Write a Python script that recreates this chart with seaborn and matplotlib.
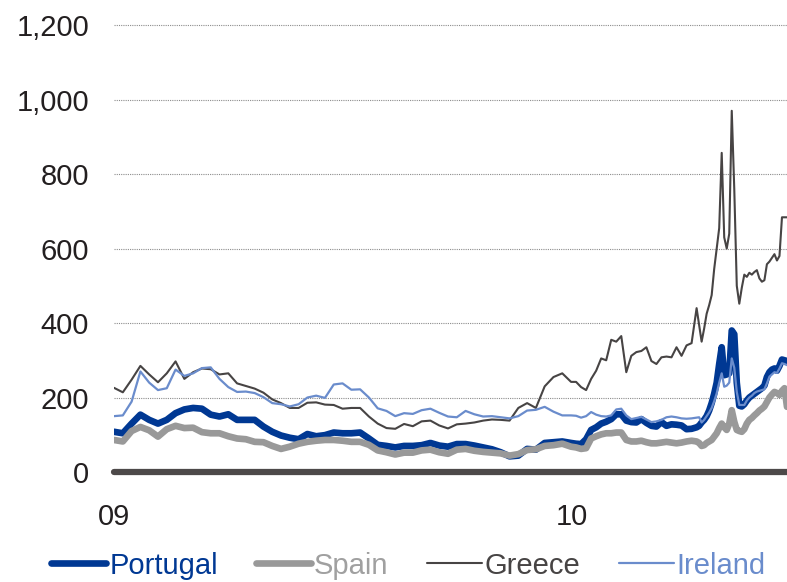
import pandas as pd
import matplotlib
matplotlib.use("Agg")
import matplotlib.pyplot as plt
import seaborn as sns

# 日期网格: 2009 每周, 2010 年初每4天, 峰值区间每2天
dates = list(pd.date_range("2009-01-01", periods=53, freq="7D")) \
    + list(pd.date_range("2010-01-04", periods=25, freq="4D")) \
    + list(pd.date_range("2010-04-12", periods=36, freq="2D"))

portugal = [108, 104, 130, 154, 140, 130, 140, 158, 168, 172,
            170, 154, 149, 155, 140, 140, 140, 122, 108, 98,
            92, 88, 102, 96, 99, 106, 104, 104, 106, 90,
            73, 70, 66, 70, 70, 72, 78, 71, 68, 75,
            75, 71, 66, 61, 53, 42, 44, 62, 60, 78,
            80, 82, 78,
            76, 75, 88, 113, 120, 130, 135, 142, 155, 155,
            138, 134, 133, 142, 132, 124, 122, 134, 124, 128,
            127, 125, 115, 116, 120,
            124, 133, 140, 150, 165, 185, 210, 240, 290, 335,
            260, 262, 265, 380, 370, 240, 178, 176, 182, 192,
            200, 205, 210, 215, 220, 225, 232, 255, 268, 275,
            278, 272, 285, 302, 300, 298]

spain = [86, 82, 110, 121, 112, 95, 115, 124, 118, 119,
         107, 104, 104, 96, 90, 88, 81, 80, 70, 62,
         68, 76, 81, 84, 86, 86, 84, 81, 81, 73,
         58, 53, 47, 52, 52, 58, 60, 53, 49, 60,
         62, 57, 54, 52, 50, 44, 48, 59, 61, 70,
         72, 76, 68,
         66, 62, 64, 90, 96, 101, 104, 104, 106, 106,
         86, 82, 82, 84, 80, 77, 77, 79, 81, 79,
         77, 79, 82, 84, 82,
         78, 70, 72, 78, 82, 86, 95, 104, 118, 130,
         120, 113, 130, 166, 135, 113, 110, 108, 115, 130,
         140, 145, 152, 158, 165, 170, 176, 188, 200, 208,
         215, 212, 207, 218, 225, 175]

greece = [226, 214, 248, 285, 262, 241, 265, 297, 250, 268,
          278, 276, 262, 265, 238, 231, 224, 213, 195, 185,
          172, 172, 186, 187, 181, 180, 170, 172, 172, 149,
          130, 118, 116, 129, 123, 136, 138, 125, 117, 128,
          130, 133, 138, 141, 140, 138, 172, 185, 172, 230,
          255, 265, 242,
          242, 228, 220, 250, 272, 305, 300, 355, 350, 365,
          268, 312, 322, 325, 335, 298, 290, 308, 310, 308,
          335, 312, 340, 346, 440,
          395, 350, 385, 425, 448, 475, 545, 600, 655, 857,
          630, 600, 640, 970, 760, 500, 452, 495, 530, 524,
          535, 530, 537, 542, 520, 511, 515, 558, 565, 575,
          585, 568, 580, 684, 684, 684]

ireland = [150, 152, 189, 270, 240, 220, 225, 275, 258, 265,
           279, 281, 250, 228, 215, 216, 212, 201, 185, 182,
           176, 182, 200, 205, 199, 235, 238, 221, 222, 200,
           171, 164, 150, 158, 156, 166, 170, 159, 149, 147,
           164, 155, 149, 150, 147, 144, 150, 165, 167, 175,
           162, 152, 152,
           151, 146, 150, 161, 154, 150, 149, 152, 168, 170,
           152, 142, 145, 148, 141, 134, 136, 140, 147, 149,
           147, 144, 143, 144, 146,
           147, 133, 140, 150, 160, 172, 190, 211, 240, 265,
           229, 232, 240, 305, 280, 215, 180, 180, 180, 192,
           200, 205, 212, 216, 218, 220, 222, 238, 256, 262,
           268, 266, 278, 292, 290, 287]

names = ["Portugal", "Spain", "Greece", "Ireland"]
colors = ["#003893", "#999999", "#474444", "#6a8ccc"]
widths = [4.8, 4.8, 1.5, 1.6]
yticks = [0, 200, 400, 600, 800, 1000, 1200]

df = pd.DataFrame({"date": dates, "Portugal": portugal, "Spain": spain,
                   "Greece": greece, "Ireland": ireland})

sns.set_style("white")
plt.rcParams["font.family"] = ["Liberation Sans", "DejaVu Sans"]

fig = plt.figure(figsize=(7.87, 5.82), dpi=100)
ax = fig.add_axes([0.1449, 0.189, 0.8551, 0.787])

for name, c, lw in zip(names, colors, widths):
    sns.lineplot(data=df, x="date", y=name, ax=ax, color=c, linewidth=lw,
                 legend=False)
handles = list(ax.lines[:4])

ax.axhline(0, color="#4d4949", linewidth=4.5, clip_on=False, zorder=5)

start = pd.Timestamp("2009-01-01")
ax.set_xlim(start, start + pd.Timedelta(days=536))
ax.set_ylim(0, 1230)
ax.set_xticks([pd.Timestamp("2009-01-01"), pd.Timestamp("2010-01-01")])
ax.set_xticklabels(["09", "10"])
ax.set_yticks(yticks)
ax.set_yticklabels([f"{v:,}" for v in yticks])
ax.set_xlabel("")
ax.set_ylabel("")
ax.yaxis.grid(True, linestyle=(0, (1, 1)), color="#8c8c8c", linewidth=0.8)
ax.xaxis.grid(False)
for s in ax.spines.values():
    s.set_visible(False)
ax.tick_params(axis="both", length=0, labelsize=21, colors="#231f20")
ax.tick_params(axis="y", pad=18)
ax.tick_params(axis="x", pad=22)

fig.legend(handles, names, loc="center", bbox_to_anchor=(0.519, 0.028),
           ncol=4, frameon=False, fontsize=21, handlelength=1.9,
           handletextpad=0.1, columnspacing=1.3,
           labelcolor=["#003893", "#a0a0a0", "#474444", "#6a8ccc"])

fig.savefig("out.png", dpi=100)
